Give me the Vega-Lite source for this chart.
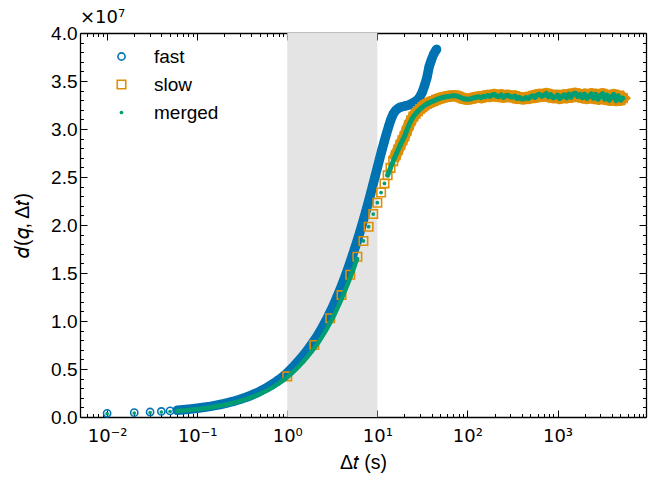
{
  "$schema": "https://vega.github.io/schema/vega-lite/v6.json",
  "width": 566,
  "height": 384,
  "autosize": {"type": "none"},
  "padding": {"left": 80, "top": 33, "right": 16, "bottom": 64},
  "background": "white",
  "title": {"text": "×10⁷", "anchor": "start", "frame": "group", "fontSize": 18, "fontWeight": "normal", "font": "DejaVu Sans", "color": "black", "offset": -3},
  "config": {
    "view": {"stroke": null},
    "font": "Liberation Sans",
    "axis": {"domainColor": "black", "domainWidth": 1.3, "tickColor": "black", "tickWidth": 1, "labelColor": "black", "labelFont": "Liberation Sans", "labelFontSize": 19, "titleFont": "Liberation Sans", "titleFontSize": 19.5, "titleFontWeight": "normal", "titleColor": "black", "grid": false, "zindex": 1, "labelOverlap": false, "labelFlush": false, "labelBound": false},
    "legend": {"orient": "none", "legendX": 32, "legendY": 14, "padding": 0, "labelFont": "Liberation Sans", "labelFontSize": 19, "labelColor": "black", "labelOffset": 23, "rowPadding": 8, "symbolStrokeWidth": 1.6, "titlePadding": 0}
  },
  "datasets": {
    "band": [{"start": 1, "end": 10}],
    "fast": [
      {"t":0.01,"d":0.0386e7},{"t":0.02,"d":0.0455e7},{"t":0.03,"d":0.0518e7},{"t":0.04,"d":0.0579e7},{"t":0.05,"d":0.0637e7},{"t":0.06,"d":0.0693e7},{"t":0.07,"d":0.0749e7},{"t":0.08,"d":0.0802e7},{"t":0.09,"d":0.0855e7},{"t":0.1,"d":0.0908e7},
      {"t":0.12,"d":0.101e7},{"t":0.14,"d":0.111e7},{"t":0.16,"d":0.121e7},{"t":0.18,"d":0.130e7},{"t":0.2,"d":0.139e7},{"t":0.25,"d":0.162e7},{"t":0.3,"d":0.185e7},{"t":0.35,"d":0.206e7},{"t":0.4,"d":0.227e7},{"t":0.45,"d":0.248e7},{"t":0.5,"d":0.269e7},{"t":0.6,"d":0.309e7},{"t":0.7,"d":0.348e7},{"t":0.8,"d":0.386e7},{"t":0.9,"d":0.423e7},
      {"t":1,"d":0.46e7},{"t":1.059,"d":0.483e7},{"t":1.122,"d":0.507e7},{"t":1.189,"d":0.531e7},{"t":1.259,"d":0.557e7},{"t":1.334,"d":0.583e7},{"t":1.413,"d":0.61e7},{"t":1.496,"d":0.638e7},{"t":1.585,"d":0.668e7},{"t":1.679,"d":0.698e7},{"t":1.778,"d":0.73e7},{"t":1.884,"d":0.763e7},{"t":1.995,"d":0.798e7},{"t":2.113,"d":0.833e7},{"t":2.239,"d":0.871e7},{"t":2.371,"d":0.911e7},{"t":2.512,"d":0.953e7},{"t":2.661,"d":0.996e7},{"t":2.818,"d":1.041e7},{"t":2.985,"d":1.089e7},{"t":3.162,"d":1.138e7},{"t":3.35,"d":1.19e7},{"t":3.548,"d":1.245e7},{"t":3.758,"d":1.301e7},{"t":3.981,"d":1.36e7},{"t":4.217,"d":1.421e7},{"t":4.467,"d":1.484e7},{"t":4.732,"d":1.549e7},{"t":5.012,"d":1.617e7},{"t":5.309,"d":1.686e7},{"t":5.623,"d":1.758e7},{"t":5.957,"d":1.831e7},{"t":6.31,"d":1.908e7},{"t":6.683,"d":1.986e7},{"t":7.079,"d":2.068e7},{"t":7.499,"d":2.151e7},{"t":7.943,"d":2.238e7},{"t":8.414,"d":2.326e7},{"t":8.913,"d":2.415e7},{"t":9.441,"d":2.506e7},{"t":10,"d":2.598e7},{"t":10.593,"d":2.689e7},{"t":11.22,"d":2.778e7},{"t":11.885,"d":2.864e7},{"t":12.589,"d":2.948e7},{"t":13.335,"d":3.026e7},{"t":14.125,"d":3.098e7},{"t":14.962,"d":3.154e7},{"t":15.849,"d":3.19e7},{"t":16.788,"d":3.211e7},{"t":17.783,"d":3.225e7},{"t":18.836,"d":3.232e7},{"t":19.953,"d":3.238e7},{"t":21.135,"d":3.244e7},{"t":22.387,"d":3.25e7},{"t":23.714,"d":3.262e7},{"t":25.119,"d":3.275e7},{"t":26.607,"d":3.289e7},{"t":28.184,"d":3.305e7},{"t":29.854,"d":3.34e7},{"t":31.623,"d":3.387e7},{"t":33.497,"d":3.455e7},{"t":35.481,"d":3.534e7},{"t":37.584,"d":3.65e7},{"t":39.811,"d":3.72e7},{"t":42.17,"d":3.78e7},{"t":44.668,"d":3.82e7},{"t":45.4,"d":3.83e7}
    ],
    "slow": [
      {"t":1,"d":0.423e7},{"t":2,"d":0.75e7},{"t":3,"d":1.029e7},{"t":4,"d":1.27e7},{"t":5,"d":1.482e7},{"t":6,"d":1.669e7},{"t":7,"d":1.834e7},{"t":8,"d":1.982e7},{"t":9,"d":2.114e7},{"t":10,"d":2.232e7},{"t":11,"d":2.338e7},{"t":12,"d":2.433e7},{"t":13,"d":2.518e7},{"t":14,"d":2.595e7},{"t":15,"d":2.665e7},{"t":16,"d":2.728e7},{"t":17,"d":2.784e7},{"t":18,"d":2.835e7},{"t":19,"d":2.882e7},{"t":20,"d":2.924e7},
      {"t":21.135,"d":2.982e7},{"t":22.387,"d":3.039e7},{"t":23.714,"d":3.089e7},{"t":25.119,"d":3.13e7},{"t":26.607,"d":3.159e7},{"t":28.184,"d":3.185e7},{"t":29.854,"d":3.208e7},{"t":31.623,"d":3.228e7},{"t":33.497,"d":3.246e7},{"t":35.481,"d":3.261e7},{"t":37.584,"d":3.274e7},{"t":39.811,"d":3.284e7},{"t":42.17,"d":3.292e7},{"t":44.668,"d":3.304e7},{"t":47.315,"d":3.313e7},{"t":50.119,"d":3.321e7},{"t":53.088,"d":3.328e7},{"t":56.234,"d":3.333e7},{"t":59.566,"d":3.337e7},{"t":63.096,"d":3.341e7},{"t":66.834,"d":3.345e7},{"t":70.795,"d":3.347e7},{"t":74.989,"d":3.345e7},{"t":79.433,"d":3.338e7},{"t":84.14,"d":3.328e7},{"t":89.125,"d":3.318e7},{"t":94.406,"d":3.312e7},{"t":100,"d":3.31e7},{"t":105.93,"d":3.312e7},{"t":112.2,"d":3.318e7},{"t":118.85,"d":3.326e7},
      {"t":125.89,"d":3.33e7},{"t":133.35,"d":3.336e7},{"t":141.25,"d":3.326e7},{"t":149.62,"d":3.34e7},{"t":158.49,"d":3.337e7},{"t":167.88,"d":3.35e7},{"t":177.83,"d":3.338e7},{"t":188.36,"d":3.354e7},{"t":199.53,"d":3.36e7},{"t":211.35,"d":3.342e7},{"t":223.87,"d":3.338e7},{"t":237.14,"d":3.356e7},{"t":251.19,"d":3.33e7},{"t":266.07,"d":3.347e7},{"t":281.84,"d":3.352e7},{"t":298.54,"d":3.336e7},{"t":316.23,"d":3.332e7},{"t":334.97,"d":3.344e7},{"t":354.81,"d":3.318e7},{"t":375.84,"d":3.33e7},{"t":398.11,"d":3.314e7},{"t":421.7,"d":3.312e7},{"t":446.68,"d":3.328e7},{"t":473.15,"d":3.318e7},{"t":501.19,"d":3.336e7},{"t":530.88,"d":3.346e7},{"t":562.34,"d":3.328e7},{"t":595.66,"d":3.356e7},{"t":630.96,"d":3.362e7},{"t":668.34,"d":3.34e7},{"t":707.95,"d":3.352e7},{"t":749.89,"d":3.37e7},{"t":794.33,"d":3.336e7},{"t":841.4,"d":3.358e7},{"t":891.25,"d":3.326e7},{"t":944.06,"d":3.332e7},{"t":1000,"d":3.352e7},{"t":1059.3,"d":3.318e7},{"t":1122,"d":3.34e7},{"t":1188.5,"d":3.356e7},{"t":1258.9,"d":3.324e7},{"t":1333.5,"d":3.362e7},{"t":1412.5,"d":3.33e7},{"t":1496.2,"d":3.368e7},{"t":1584.9,"d":3.372e7},{"t":1678.8,"d":3.338e7},{"t":1778.3,"d":3.36e7},{"t":1883.6,"d":3.326e7},{"t":1995.3,"d":3.364e7},{"t":2113.5,"d":3.318e7},{"t":2238.7,"d":3.34e7},{"t":2371.4,"d":3.366e7},{"t":2511.9,"d":3.32e7},{"t":2660.7,"d":3.362e7},{"t":2818.4,"d":3.31e7},{"t":2985.4,"d":3.348e7},{"t":3162.3,"d":3.368e7},{"t":3349.7,"d":3.31e7},{"t":3548.1,"d":3.352e7},{"t":3758.4,"d":3.3e7},{"t":3981.1,"d":3.338e7},{"t":4217,"d":3.36e7},{"t":4466.8,"d":3.296e7},{"t":4731.5,"d":3.346e7},{"t":5011.9,"d":3.3e7},{"t":5308.8,"d":3.322e7}
    ],
    "merged": [
      {"t":0.01,"d":0.0347e7},{"t":0.02,"d":0.041e7},{"t":0.03,"d":0.0466e7},{"t":0.04,"d":0.0521e7},{"t":0.05,"d":0.0573e7},{"t":0.06,"d":0.0624e7},{"t":0.07,"d":0.0674e7},{"t":0.08,"d":0.0722e7},{"t":0.09,"d":0.077e7},{"t":0.1,"d":0.0817e7},
      {"t":0.12,"d":0.0909e7},{"t":0.14,"d":0.0999e7},{"t":0.16,"d":0.1089e7},{"t":0.18,"d":0.117e7},{"t":0.2,"d":0.1251e7},{"t":0.25,"d":0.1458e7},{"t":0.3,"d":0.1665e7},{"t":0.35,"d":0.1854e7},{"t":0.4,"d":0.2043e7},{"t":0.45,"d":0.2232e7},{"t":0.5,"d":0.2421e7},{"t":0.6,"d":0.2781e7},{"t":0.7,"d":0.3132e7},{"t":0.8,"d":0.3474e7},{"t":0.9,"d":0.3807e7},
      {"t":1,"d":0.414e7},{"t":1.059,"d":0.435e7},{"t":1.122,"d":0.456e7},{"t":1.189,"d":0.478e7},{"t":1.259,"d":0.501e7},{"t":1.334,"d":0.525e7},{"t":1.413,"d":0.549e7},{"t":1.496,"d":0.574e7},{"t":1.585,"d":0.601e7},{"t":1.679,"d":0.628e7},{"t":1.778,"d":0.657e7},{"t":1.884,"d":0.687e7},{"t":1.995,"d":0.718e7},{"t":2.113,"d":0.75e7},{"t":2.239,"d":0.784e7},{"t":2.371,"d":0.82e7},{"t":2.512,"d":0.858e7},{"t":2.661,"d":0.896e7},{"t":2.818,"d":0.937e7},{"t":2.985,"d":0.98e7},{"t":3.162,"d":1.024e7},{"t":3.35,"d":1.071e7},{"t":3.548,"d":1.121e7},{"t":3.758,"d":1.171e7},{"t":3.981,"d":1.224e7},{"t":4.217,"d":1.279e7},{"t":4.467,"d":1.336e7},{"t":4.732,"d":1.394e7},{"t":5.012,"d":1.455e7},{"t":5.309,"d":1.517e7},{"t":5.623,"d":1.582e7},{"t":5.957,"d":1.648e7},
      {"t":7,"d":1.834e7},{"t":8,"d":1.982e7},{"t":9,"d":2.114e7},{"t":10,"d":2.232e7},{"t":11,"d":2.338e7},{"t":12,"d":2.433e7},{"t":13,"d":2.518e7},{"t":14,"d":2.595e7},{"t":15,"d":2.665e7},{"t":16,"d":2.728e7},{"t":17,"d":2.784e7},{"t":18,"d":2.835e7},{"t":19,"d":2.882e7},{"t":20,"d":2.924e7},
      {"t":21.135,"d":2.982e7},{"t":22.387,"d":3.039e7},{"t":23.714,"d":3.089e7},{"t":25.119,"d":3.13e7},{"t":26.607,"d":3.159e7},{"t":28.184,"d":3.185e7},{"t":29.854,"d":3.208e7},{"t":31.623,"d":3.228e7},{"t":33.497,"d":3.246e7},{"t":35.481,"d":3.261e7},{"t":37.584,"d":3.274e7},{"t":39.811,"d":3.284e7},{"t":42.17,"d":3.292e7},{"t":44.668,"d":3.304e7},{"t":47.315,"d":3.313e7},{"t":50.119,"d":3.321e7},{"t":53.088,"d":3.328e7},{"t":56.234,"d":3.333e7},{"t":59.566,"d":3.337e7},{"t":63.096,"d":3.341e7},{"t":66.834,"d":3.345e7},{"t":70.795,"d":3.347e7},{"t":74.989,"d":3.345e7},{"t":79.433,"d":3.338e7},{"t":84.14,"d":3.328e7},{"t":89.125,"d":3.318e7},{"t":94.406,"d":3.312e7},{"t":100,"d":3.31e7},{"t":105.93,"d":3.312e7},{"t":112.2,"d":3.318e7},{"t":118.85,"d":3.326e7},
      {"t":125.89,"d":3.33e7},{"t":133.35,"d":3.336e7},{"t":141.25,"d":3.326e7},{"t":149.62,"d":3.34e7},{"t":158.49,"d":3.337e7},{"t":167.88,"d":3.35e7},{"t":177.83,"d":3.338e7},{"t":188.36,"d":3.354e7},{"t":199.53,"d":3.36e7},{"t":211.35,"d":3.342e7},{"t":223.87,"d":3.338e7},{"t":237.14,"d":3.356e7},{"t":251.19,"d":3.33e7},{"t":266.07,"d":3.347e7},{"t":281.84,"d":3.352e7},{"t":298.54,"d":3.336e7},{"t":316.23,"d":3.332e7},{"t":334.97,"d":3.344e7},{"t":354.81,"d":3.318e7},{"t":375.84,"d":3.33e7},{"t":398.11,"d":3.314e7},{"t":421.7,"d":3.312e7},{"t":446.68,"d":3.328e7},{"t":473.15,"d":3.318e7},{"t":501.19,"d":3.336e7},{"t":530.88,"d":3.346e7},{"t":562.34,"d":3.328e7},{"t":595.66,"d":3.356e7},{"t":630.96,"d":3.362e7},{"t":668.34,"d":3.34e7},{"t":707.95,"d":3.352e7},{"t":749.89,"d":3.37e7},{"t":794.33,"d":3.336e7},{"t":841.4,"d":3.358e7},{"t":891.25,"d":3.326e7},{"t":944.06,"d":3.332e7},{"t":1000,"d":3.352e7},{"t":1059.3,"d":3.318e7},{"t":1122,"d":3.34e7},{"t":1188.5,"d":3.356e7},{"t":1258.9,"d":3.324e7},{"t":1333.5,"d":3.362e7},{"t":1412.5,"d":3.33e7},{"t":1496.2,"d":3.368e7},{"t":1584.9,"d":3.372e7},{"t":1678.8,"d":3.338e7},{"t":1778.3,"d":3.36e7},{"t":1883.6,"d":3.326e7},{"t":1995.3,"d":3.364e7},{"t":2113.5,"d":3.318e7},{"t":2238.7,"d":3.34e7},{"t":2371.4,"d":3.366e7},{"t":2511.9,"d":3.32e7},{"t":2660.7,"d":3.362e7},{"t":2818.4,"d":3.31e7},{"t":2985.4,"d":3.348e7},{"t":3162.3,"d":3.368e7},{"t":3349.7,"d":3.31e7},{"t":3548.1,"d":3.352e7},{"t":3758.4,"d":3.3e7},{"t":3981.1,"d":3.338e7},{"t":4217,"d":3.36e7},{"t":4466.8,"d":3.296e7},{"t":4731.5,"d":3.346e7},{"t":5011.9,"d":3.3e7},{"t":5308.8,"d":3.322e7}
    ]
  },
  "resolve": {"axis": {"x": "independent", "y": "independent"}},
  "layer": [
    {
      "data": {"name": "band"},
      "mark": {"type": "rect", "color": "#e4e4e4"},
      "encoding": {
        "x": {"field": "start", "type": "quantitative", "scale": {"type": "log", "domain": [0.005, 9600], "nice": false},
          "axis": {"orient": "top", "labels": false, "title": null, "values": [0.006,0.007,0.008,0.009,0.01,0.02,0.03,0.04,0.05,0.06,0.07,0.08,0.09,0.1,0.2,0.3,0.4,0.5,0.6,0.7,0.8,0.9,1,2,3,4,5,6,7,8,9,10,20,30,40,50,60,70,80,90,100,200,300,400,500,600,700,800,900,1000,2000,3000,4000,5000,6000,7000,8000,9000],
            "tickSize": {"condition": {"test": "abs(log(datum.value)/LN10 - round(log(datum.value)/LN10)) < 0.001", "value": -7}, "value": -3.5}}},
        "x2": {"field": "end"}
      }
    },
    {
      "data": {"name": "fast"},
      "transform": [{"filter": "datum.t >= 0.055"}],
      "mark": {"type": "line", "color": "#0173B2", "strokeWidth": 9.5, "strokeCap": "round", "strokeJoin": "round"},
      "encoding": {
        "x": {"field": "t", "type": "quantitative", "scale": {"type": "log", "domain": [0.005, 9600], "nice": false},
          "axis": {"orient": "bottom", "title": "Δ𝑡 (s)", "titlePadding": 5, "labelPadding": 17, "labelFont": "DejaVu Sans", "labelFontSize": 18, "values": [0.006,0.007,0.008,0.009,0.01,0.02,0.03,0.04,0.05,0.06,0.07,0.08,0.09,0.1,0.2,0.3,0.4,0.5,0.6,0.7,0.8,0.9,1,2,3,4,5,6,7,8,9,10,20,30,40,50,60,70,80,90,100,200,300,400,500,600,700,800,900,1000,2000,3000,4000,5000,6000,7000,8000,9000],
            "labelExpr": "abs(log(datum.value)/LN10 - round(log(datum.value)/LN10)) > 0.001 ? '' : round(log(datum.value)/LN10) == -2 ? '10⁻²' : round(log(datum.value)/LN10) == -1 ? '10⁻¹' : round(log(datum.value)/LN10) == 0 ? '10⁰' : round(log(datum.value)/LN10) == 1 ? '10¹' : round(log(datum.value)/LN10) == 2 ? '10²' : '10³'",
            "tickSize": {"condition": {"test": "abs(log(datum.value)/LN10 - round(log(datum.value)/LN10)) < 0.001", "value": -7}, "value": -3.5}}},
        "y": {"field": "d", "type": "quantitative", "scale": {"domain": [0, 40000000], "nice": false, "zero": true},
          "axis": {"orient": "left", "title": "𝑑(𝑞, Δ𝑡)", "titlePadding": 18, "labelPadding": 10,
            "values": [0,1000000,2000000,3000000,4000000,5000000,6000000,7000000,8000000,9000000,10000000,11000000,12000000,13000000,14000000,15000000,16000000,17000000,18000000,19000000,20000000,21000000,22000000,23000000,24000000,25000000,26000000,27000000,28000000,29000000,30000000,31000000,32000000,33000000,34000000,35000000,36000000,37000000,38000000,39000000,40000000],
            "labelExpr": "datum.value % 5000000 == 0 ? format(datum.value / 10000000, '.1f') : ''",
            "tickSize": {"condition": {"test": "datum.value % 5000000 == 0", "value": -7}, "value": -3.5}}}
      }
    },
    {
      "data": {"name": "fast"},
      "mark": {"type": "point", "strokeWidth": 1.6, "opacity": 1},
      "encoding": {
        "x": {"field": "t", "type": "quantitative", "axis": null},
        "y": {"field": "d", "type": "quantitative", "axis": null},
        "stroke": {"datum": "fast", "type": "nominal", "scale": {"domain": ["fast", "slow", "merged"], "range": ["#0173B2", "#DE8F05", "transparent"]}, "legend": {"title": null}},
        "fill": {"datum": "fast", "type": "nominal", "scale": {"domain": ["fast", "slow", "merged"], "range": ["transparent", "transparent", "#029E73"]}, "legend": {"title": null}},
        "shape": {"datum": "fast", "type": "nominal", "scale": {"domain": ["fast", "slow", "merged"], "range": ["circle", "square", "circle"]}, "legend": {"title": null}},
        "size": {"datum": "fast", "type": "nominal", "scale": {"type": "ordinal", "domain": ["fast", "slow", "merged"], "range": [52, 72, 14]}, "legend": {"title": null}}
      }
    },
    {
      "data": {"name": "slow"},
      "transform": [{"filter": "datum.t >= 15.5"}],
      "mark": {"type": "line", "color": "#DE8F05", "strokeWidth": 11.5, "strokeCap": "square", "strokeJoin": "round"},
      "encoding": {
        "x": {"field": "t", "type": "quantitative", "axis": null},
        "y": {"field": "d", "type": "quantitative",
          "axis": {"orient": "right", "labels": false, "title": null,
            "values": [0,1000000,2000000,3000000,4000000,5000000,6000000,7000000,8000000,9000000,10000000,11000000,12000000,13000000,14000000,15000000,16000000,17000000,18000000,19000000,20000000,21000000,22000000,23000000,24000000,25000000,26000000,27000000,28000000,29000000,30000000,31000000,32000000,33000000,34000000,35000000,36000000,37000000,38000000,39000000,40000000],
            "tickSize": {"condition": {"test": "datum.value % 5000000 == 0", "value": -7}, "value": -3.5}}}
      }
    },
    {
      "data": {"name": "slow"},
      "mark": {"type": "point", "strokeWidth": 1.6, "opacity": 1},
      "encoding": {
        "x": {"field": "t", "type": "quantitative", "axis": null},
        "y": {"field": "d", "type": "quantitative", "axis": null},
        "stroke": {"datum": "slow", "type": "nominal", "scale": {"domain": ["fast", "slow", "merged"], "range": ["#0173B2", "#DE8F05", "transparent"]}, "legend": {"title": null}},
        "fill": {"datum": "slow", "type": "nominal", "scale": {"domain": ["fast", "slow", "merged"], "range": ["transparent", "transparent", "#029E73"]}, "legend": {"title": null}},
        "shape": {"datum": "slow", "type": "nominal", "scale": {"domain": ["fast", "slow", "merged"], "range": ["circle", "square", "circle"]}, "legend": {"title": null}},
        "size": {"datum": "slow", "type": "nominal", "scale": {"type": "ordinal", "domain": ["fast", "slow", "merged"], "range": [52, 72, 14]}, "legend": {"title": null}}
      }
    },
    {
      "data": {"name": "merged"},
      "transform": [{"filter": "datum.t >= 0.055 && datum.t <= 6"}],
      "mark": {"type": "line", "color": "#029E73", "strokeWidth": 4.5, "strokeCap": "round", "strokeJoin": "round"},
      "encoding": {
        "x": {"field": "t", "type": "quantitative", "axis": null},
        "y": {"field": "d", "type": "quantitative", "axis": null}
      }
    },
    {
      "data": {"name": "merged"},
      "transform": [{"filter": "datum.t >= 13"}],
      "mark": {"type": "line", "color": "#029E73", "strokeWidth": 5, "strokeCap": "round", "strokeJoin": "round"},
      "encoding": {
        "x": {"field": "t", "type": "quantitative", "axis": null},
        "y": {"field": "d", "type": "quantitative", "axis": null}
      }
    },
    {
      "data": {"name": "merged"},
      "mark": {"type": "point", "strokeWidth": 1.6, "opacity": 1},
      "encoding": {
        "x": {"field": "t", "type": "quantitative", "axis": null},
        "y": {"field": "d", "type": "quantitative", "axis": null},
        "stroke": {"datum": "merged", "type": "nominal", "scale": {"domain": ["fast", "slow", "merged"], "range": ["#0173B2", "#DE8F05", "transparent"]}, "legend": {"title": null}},
        "fill": {"datum": "merged", "type": "nominal", "scale": {"domain": ["fast", "slow", "merged"], "range": ["transparent", "transparent", "#029E73"]}, "legend": {"title": null}},
        "shape": {"datum": "merged", "type": "nominal", "scale": {"domain": ["fast", "slow", "merged"], "range": ["circle", "square", "circle"]}, "legend": {"title": null}},
        "size": {"datum": "merged", "type": "nominal", "scale": {"type": "ordinal", "domain": ["fast", "slow", "merged"], "range": [52, 72, 14]}, "legend": {"title": null}}
      }
    }
  ]
}
